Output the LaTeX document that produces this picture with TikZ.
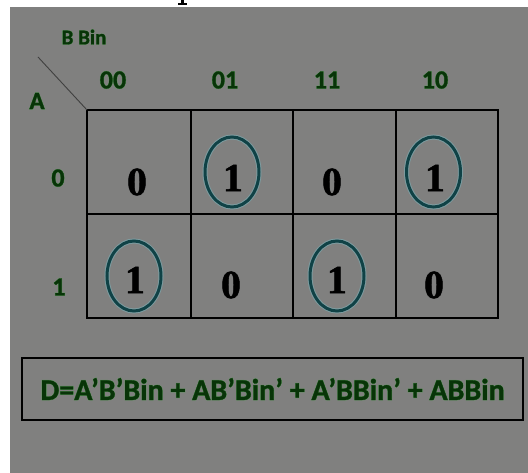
\documentclass[tikz,border=0pt]{standalone}
\usepackage{fontspec}
\setmainfont{Liberation Serif}
\newfontfamily\lblfont{Carlito Bold}[FakeBold=0.9]
\newfontfamily\lblhalo{Carlito Bold}[FakeBold=3.5]
\newfontfamily\digitfont{Liberation Serif Bold}[FakeBold=1.2]
\usetikzlibrary{shapes.geometric}
\definecolor{bggrey}{RGB}{128,128,127}
\definecolor{lblgreen}{RGB}{8,52,8}
\definecolor{haloGreen}{RGB}{92,150,92}
\definecolor{ringteal}{RGB}{16,66,70}
\definecolor{ringglow}{RGB}{120,190,200}
\newcommand\glowtxt[1]{\makebox[0pt][l]{\color{haloGreen}\lblhalo #1}#1}
\tikzset{
  x=1pt, y=-1pt,
  lbl/.style={inner sep=0pt, text=lblgreen, font=\fontsize{26}{26}\selectfont\lblfont},
  cellval/.style={inner sep=0pt, text=black, font=\fontsize{40}{40}\selectfont\digitfont},
  ring/.style={ellipse, draw=ringteal, line width=3pt, minimum width=54pt, minimum height=70pt, inner sep=0pt,
    preaction={draw=ringglow, line width=5pt, opacity=0.45}},
  gridline/.style={draw=black, line width=1.4pt},
}
\begin{document}
\begin{tikzpicture}
\useasboundingbox (0,0) rectangle (528,473);
\fill[white] (0,0) rectangle (528,473);
\fill[bggrey] (10,7) rectangle (528,473);
% cut-off glyph at the top
\fill[black] (181,0) rectangle (183.5,5);
\fill[black] (178,3.5) rectangle (186.5,5.5);

% grid
\coordinate (gtl) at (87,110);
\coordinate (gbr) at (498,318);
\draw[gridline] (gtl) rectangle (gbr);
\draw[gridline] (87,214) -- (498,214);
\draw[gridline] (191,110) -- (191,318);
\draw[gridline] (293,110) -- (293,318);
\draw[gridline] (396,110) -- (396,318);

% diagonal
\coordinate (dstart) at (38,57);
\draw[line width=0.9pt, draw=black!75] (dstart) -- (gtl);

% labels
\node[lbl, font=\fontsize{21}{21}\selectfont\lblfont] (bbin) at (84,37) {\glowtxt{B Bin}};
\node[lbl, font=\fontsize{25}{25}\selectfont\lblfont] (alab) at (37,101) {\glowtxt{A}};
\node[lbl] (c00) at (113,80) {\glowtxt{00}};
\node[lbl] (c01) at (225,80) {\glowtxt{01}};
\node[lbl] (c11) at (327,80) {\glowtxt{11}};
\node[lbl] (c10) at (435,80) {\glowtxt{10}};
\node[lbl] (r0) at (58,178) {\glowtxt{0}};
\node[lbl] (r1) at (59,287) {\glowtxt{1}};

% rings
\node[ring] (e01) at (232,172) {};
\node[ring] (e10) at (433.5,172) {};
\node[ring] (e100) at (134,276) {};
\node[ring] (e111) at (337,276) {};

% cell values
\node[cellval] (v000) at (137,182) {0};
\node[cellval] (v001) at (233,178) {1};
\node[cellval] (v011) at (332,182) {0};
\node[cellval] (v010) at (435,178) {1};
\node[cellval] (v100) at (135,280) {1};
\node[cellval] (v101) at (231,285) {0};
\node[cellval] (v111) at (337,280) {1};
\node[cellval] (v110) at (434,285) {0};

% equation
\node[draw=black, line width=1.4pt, minimum width=501pt, minimum height=62pt, inner sep=0pt,
  text=lblgreen, font=\fontsize{30}{30}\selectfont\lblfont] (eq) at (272.5,389)
  {\glowtxt{D=A’B’Bin + AB’Bin’ + A’BBin’ + ABBin}};
\end{tikzpicture}
\end{document}
